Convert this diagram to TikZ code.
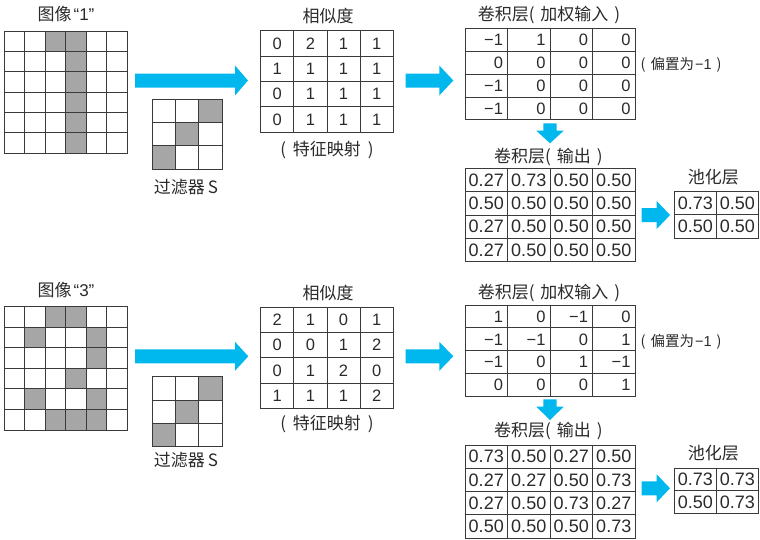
\documentclass[tikz,border=0pt]{standalone}
\usepackage{fontspec}
\setmainfont{Liberation Sans}
\newfontfamily\cjk{Noto Sans CJK SC}
\definecolor{arrowc}{HTML}{00B8EE}
\definecolor{pixc}{HTML}{A6A6A6}
\definecolor{linec}{HTML}{3A3A3A}
\definecolor{textc}{HTML}{2A2A2A}

% pixel grid: name, x0, y0, cell w, cell h, rows of 0/1
\newcommand{\pixgrid}[6]{%
  \foreach \row [count=\i from 0] in {#6}{%
    \foreach \v [count=\j from 0] in \row {%
      \ifnum\v=1 \def\fc{pixc}\else\def\fc{white}\fi
      \node[pixcell, fill=\fc, minimum width=#4, minimum height=#5]
        (#1-\i-\j) at ({#2+(\j+0.5)*#4},{#3+(\i+0.5)*#5}) {};
    }}}
% right aligned number table
\newcommand{\rtab}[6]{%
  \pgfmathsetmacro\tw{#4-9}%
  \foreach \row [count=\i from 0] in {#6}{%
    \foreach \v [count=\j from 0] in \row {%
      \node[tcell, intnum, minimum width=#4, minimum height=#5, text width=\tw pt, align=right]
        (#1-\i-\j) at ({#2+(\j+0.5)*#4},{#3+(\i+0.5)*#5}) {\v};
    }}}
% centered number table
\newcommand{\ctab}[7]{%
  \foreach \row [count=\i from 0] in {#7}{%
    \foreach \v [count=\j from 0] in \row {%
      \node[tcell, #6, minimum width=#4, minimum height=#5]
        (#1-\i-\j) at ({#2+(\j+0.5)*#4},{#3+(\i+0.5)*#5}) {\v};
    }}}
% block arrows
\newcommand{\rarrow}[6]{% x1, xhead, xtip, yc, shaft half, head half
  \fill[arrowc] (#1,{#4-#5}) -- (#2,{#4-#5}) -- (#2,{#4-#6}) -- (#3,#4)
    -- (#2,{#4+#6}) -- (#2,{#4+#5}) -- (#1,{#4+#5}) -- cycle;}
\newcommand{\darrow}[6]{% xc, y1, yhead, ytip, shaft half, head half
  \fill[arrowc] ({#1-#5},#2) -- ({#1+#5},#2) -- ({#1+#5},#3) -- ({#1+#6},#3)
    -- (#1,#4) -- ({#1-#6},#3) -- ({#1-#5},#3) -- cycle;}

\begin{document}
\begin{tikzpicture}[x=1pt,y=-1pt,
  pixcell/.style={draw=linec,line width=0.9pt,inner sep=0pt},
  tcell/.style={draw=linec,line width=0.9pt,inner xsep=4.5pt,inner ysep=0pt,text=textc},
  intnum/.style={font=\fontsize{16.5}{18}\selectfont},
  decnum/.style={font=\fontsize{18}{20}\selectfont,inner xsep=0pt},
  title/.style={font=\cjk\fontsize{17}{19}\selectfont,text=textc,inner sep=0pt},
  note/.style={font=\fontsize{14.5}{16}\selectfont,text=textc,inner sep=0pt}]
\useasboundingbox (0,0) rectangle (760,539);

% ================= top: image "1" =================
\node[title] (t-img1) at (66,14.5) {图像\hspace{2pt}{\rmfamily“1”}};
\pixgrid{imgA}{4}{31}{20.5}{20.33}{{0,0,1,1,0,0},{0,0,0,1,0,0},{0,0,0,1,0,0},{0,0,0,1,0,0},{0,0,0,1,0,0},{0,0,0,1,0,0}}
\pixgrid{filA}{152}{99}{23.33}{23.33}{{0,0,1},{0,1,0},{1,0,0}}
\node[title] (t-filA) at (186,187) {过滤器\hspace{3pt}S};
\rarrow{135}{235}{248}{80.5}{7}{15}

\node[title] (t-simA) at (328,16) {相似度};
\ctab{simA}{260.7}{30.7}{33.15}{25.4}{intnum}{{0,2,1,1},{1,1,1,1},{0,1,1,1},{0,1,1,1}}
\node[title] (t-mapA) at (327,150) {(\hspace{7pt}特征映射\hspace{7pt})};
\rarrow{405.7}{439.3}{453.3}{80.5}{7}{15}

\node[title] (t-winA) at (549,15) {卷积层(\hspace{6pt}加权输入\hspace{6pt})};
\rtab{winA}{465}{28.3}{42.5}{22.9}{{−1,1,0,0},{0,0,0,0},{−1,0,0,0},{−1,0,0,0}}
\node[note,anchor=west] (biasA) at ([xshift=5pt,yshift=-2pt]winA-1-3.east) {{\cjk (\hspace{5pt}偏置为\hspace{1pt}}−1{\cjk\hspace{5pt})}};
\darrow{550}{123.3}{130.7}{143.3}{6.7}{13.7}

\node[title] (t-outA) at (548.3,156.5) {卷积层(\hspace{6pt}输出\hspace{6pt})};
\ctab{outA}{465}{168.3}{42.5}{23.35}{decnum}{{0.27,0.73,0.50,0.50},{0.50,0.50,0.50,0.50},{0.27,0.50,0.50,0.50},{0.27,0.50,0.50,0.50}}
\rarrow{641.7}{656.7}{670}{215}{7}{14}

\node[title] (t-poolA) at (713.3,176.7) {池化层};
\ctab{poolA}{674.3}{191}{42}{23.65}{decnum}{{0.73,0.50},{0.50,0.50}}

% ================= bottom: image "3" =================
\node[title] (t-img3) at (66,290.5) {图像\hspace{2pt}{\rmfamily“3”}};
\pixgrid{imgB}{4}{306.7}{20.5}{20.55}{{0,0,1,1,0,0},{0,1,0,0,1,0},{0,0,0,0,1,0},{0,0,0,1,0,0},{0,1,0,0,1,0},{0,0,1,1,1,0}}
\pixgrid{filB}{152}{376.7}{23.33}{23.33}{{0,0,1},{0,1,0},{1,0,0}}
\node[title] (t-filB) at (186,460) {过滤器\hspace{3pt}S};
\rarrow{135}{235}{248.3}{356.3}{7}{14.5}

\node[title] (t-simB) at (328,292.5) {相似度};
\ctab{simB}{260.7}{307.3}{33.15}{25.25}{intnum}{{2,1,0,1},{0,0,1,2},{0,1,2,0},{1,1,1,2}}
\node[title] (t-mapB) at (327,424) {(\hspace{7pt}特征映射\hspace{7pt})};
\rarrow{405.7}{439.3}{453.3}{356.3}{7}{14.5}

\node[title] (t-winB) at (549,292.5) {卷积层(\hspace{6pt}加权输入\hspace{6pt})};
\rtab{winB}{465}{305}{42.5}{22.9}{{1,0,−1,0},{−1,−1,0,1},{−1,0,1,−1},{0,0,0,1}}
\node[note,anchor=west] (biasB) at ([xshift=5pt,yshift=-2pt]winB-1-3.east) {{\cjk (\hspace{5pt}偏置为\hspace{1pt}}−1{\cjk\hspace{5pt})}};
\darrow{550}{399.3}{406.7}{420}{6.7}{13.7}

\node[title] (t-outB) at (548.3,431) {卷积层(\hspace{6pt}输出\hspace{6pt})};
\ctab{outB}{465}{445}{42.5}{23.25}{decnum}{{0.73,0.50,0.27,0.50},{0.27,0.27,0.50,0.73},{0.27,0.50,0.73,0.27},{0.50,0.50,0.50,0.73}}
\rarrow{641.7}{656.7}{670}{488.3}{7}{14}

\node[title] (t-poolB) at (713.3,453.3) {池化层};
\ctab{poolB}{674.3}{468.3}{42}{22.5}{decnum}{{0.73,0.73},{0.50,0.73}}
\end{tikzpicture}
\end{document}
